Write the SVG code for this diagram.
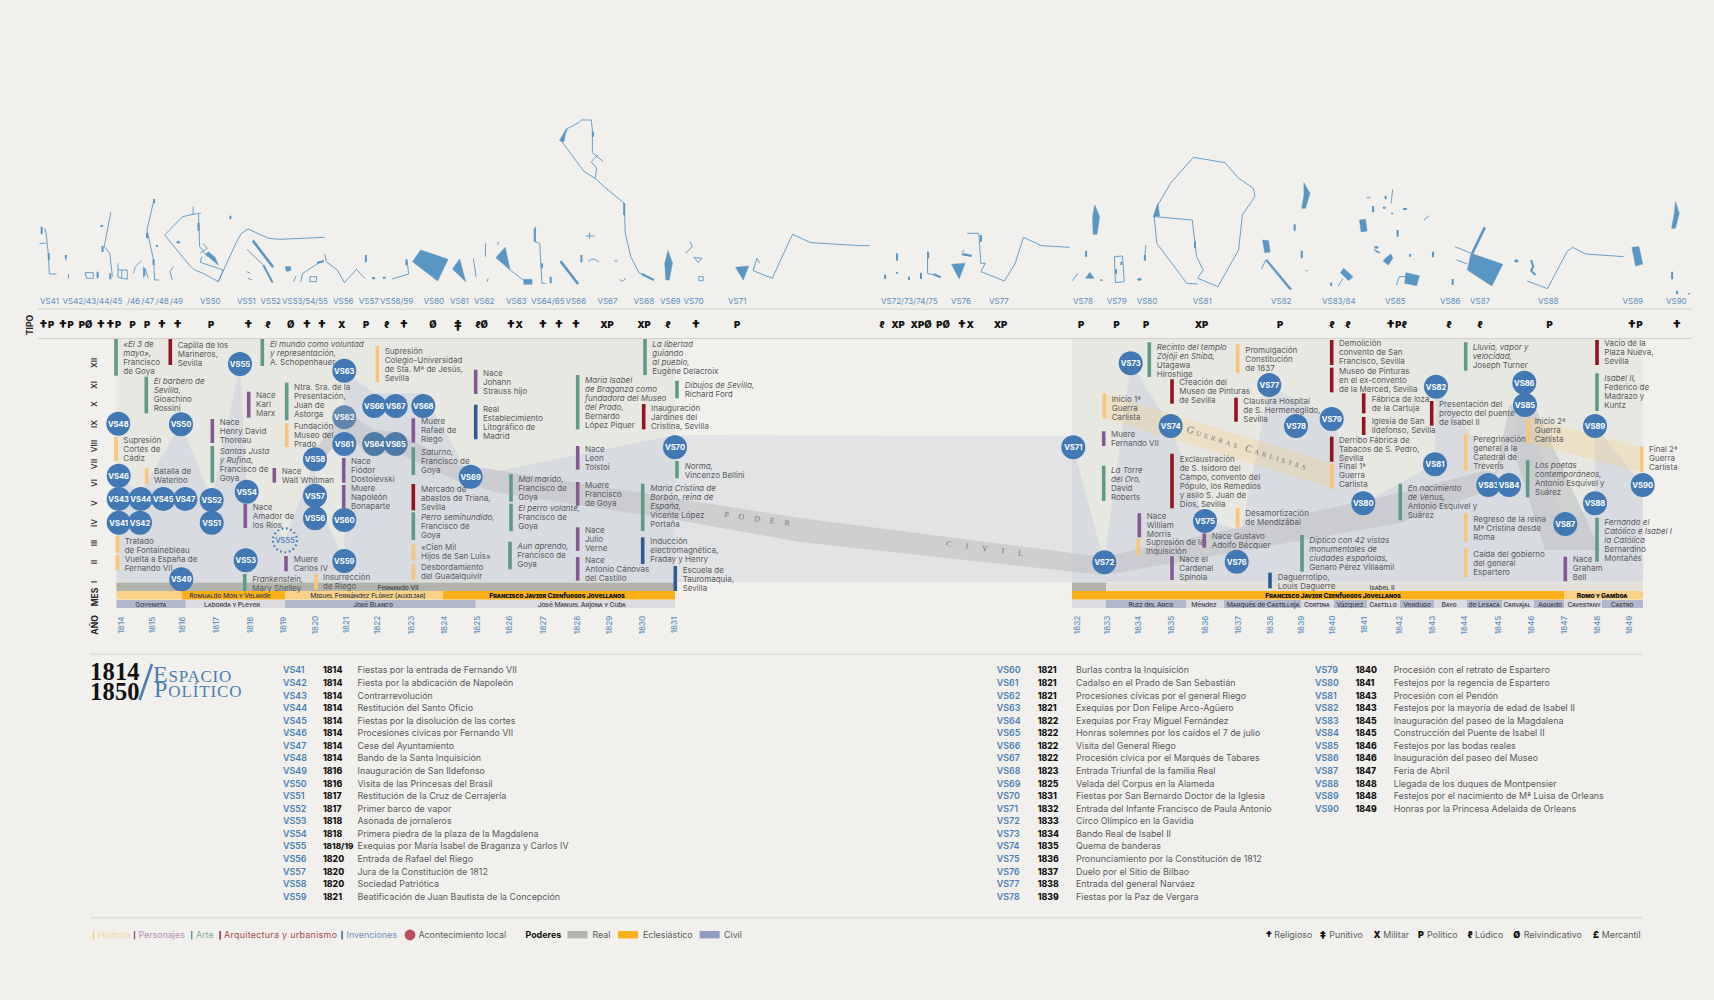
<svg xmlns="http://www.w3.org/2000/svg" width="1714" height="1000" viewBox="0 0 1714 1000">
<style>
text{font-family:"Inter","Liberation Sans",sans-serif}
.t{font-size:8px;fill:#5a5b5f}
.it{font-style:italic}
.h{fill:#f9c678}.p{fill:#855a93}.a{fill:#5e9a85}.u{fill:#93141e}.v{fill:#2f5a94}
.b rect{width:3.6px}
.n circle{fill:#4279b5}
.n text{font-size:7.6px;font-weight:700;fill:#fff;text-anchor:middle}
.yr{font-size:8px;fill:#5b8fc0;text-anchor:middle;font-weight:500}
.ax{font-size:8.5px;font-weight:700;fill:#222;text-anchor:middle}
.rm{font-size:8px;font-weight:600;fill:#333;text-anchor:middle}
.vl{font-size:8px;fill:#5b8fc0}
.ty{font-size:9.5px;font-weight:900;fill:#111;text-anchor:middle}
.ty tspan.d{font-size:14px;baseline-shift:-2.5px}
.sc{font-size:6.8px;letter-spacing:-.15px;font-variant:small-caps;fill:#44454a;text-anchor:middle;font-weight:500}
.sb{font-size:6.8px;letter-spacing:-.15px;font-variant:small-caps;fill:#111;text-anchor:middle;font-weight:800}
.l1{font-size:8.9px;font-weight:600;fill:#4a7fb5}
.l2{font-size:8.7px;font-weight:800;fill:#111}
.l3{font-size:8.9px;fill:#5a5b5f}
.lg{font-size:8.9px;fill:#5a5b5f}
.sym{font-size:9px;font-weight:900;fill:#111;text-anchor:middle}
.sv{font-family:"Liberation Serif",serif;fill:#77787c;font-size:8px}
.m path{fill:none;stroke:#5a96c4;stroke-width:.9;vector-effect:non-scaling-stroke}
.m polygon,.m circle,.m rect.f{fill:#5a96c4;stroke:#5a96c4;stroke-width:.5;vector-effect:non-scaling-stroke}
.m path.k{stroke-width:2.6}
.m path.s{stroke-width:2}
.rule{stroke:#d2d2cc;stroke-width:1}
</style>
<rect width="1714" height="1000" fill="#f1f0ec"/>

<g id="maps" class="m">
<g transform="translate(0,100) scale(.5485,.3333)">
<path d="M82,385 84,400 88,460 90,522 103,522M72,430H84M120,465V482M125,522V536"/><path class="s" d="M76,380V402M89,460V480M120,465V475"/>
<path d="M155,518H170V535H158ZM202,337 190,440 200,460 205,530"/><path class="s" d="M178,515V535M187,438V456M183,378H188M201,520V538"/>
<path d="M215,490V532L232,538V510H215M222,510V535M243,520 247,500 258,482M262,535V500M270,535 265,505"/><path class="s" d="M263,505V528"/>
<path d="M281,297 268,390 280,480 282,540H290M300,405 333,350 360,340H366M352,320V345M362,342 364,440 378,470M300,405 345,495 355,510 370,520 398,545 407,510 365,487 368,470M398,545 430,430 440,400 452,387 490,415 510,418 592,412M316,500 310,515 314,540"/>
<path class="s" d="M268,398V415M280,478V495M281,297V310M362,368V392M420,347V357M286,435V441"/>
<circle cx="325" cy="427" r="3"/><polygon points="380,455 392,472 398,495 385,478 375,462"/><path d="M370,430 378,445 365,460"/>
<path d="M450,515 456,520M452,535 460,540"/><path class="k" d="M461,422 498,502"/><path class="s" d="M480,495 497,548"/><path d="M450,448 480,495"/>
<polygon points="520,500 530,500 530,512 522,514"/><path d="M535,545 540,528M548,545 552,520 580,490 590,482M565,530H577V545H565ZM592,462 595,485 615,510 628,548 650,508 665,535"/><path class="s" d="M578,488 590,484"/>
<path class="s" d="M667,465V487M678,535H684M698,533H703"/><path d="M715,537 745,522 742,480"/><path class="s" d="M741,478V496"/>
<polygon points="767,450 817,478 798,543 752,485"/><polygon points="838,477 849,545 825,507"/>
<path d="M863,475 868,530M885,430V470M890,535 888,545M908,425V434"/>
<polygon points="921,442 930,510 904,473"/><path d="M930,510 958,545"/><rect class="f" x="955" y="538" width="15" height="15"/>
<path d="M976,380 975,425 984,430 988,550H995"/><path class="s" d="M975,385V425M988,490V505M1004,530V550"/><path class="k" d="M1022,484 1054,552"/>
<path class="s" d="M1060,465V487"/><path d="M1072,485C1078,475 1085,475 1092,487M1120,483H1126M1130,538C1132,545 1138,545 1140,534M1068,408H1084M1075,398V416"/>
<path d="M1023,122 1035,85 1055,68 1060,60 1078,60 1080,90 1080,158 1100,185M1023,122 1065,215 1085,235 1100,258 1138,310 1140,400 1150,470 1165,518 1192,540M1090,165 1078,185 1088,205 1085,235"/>
<polygon points="1033,85 1020,122 1028,125"/><path class="s" d="M1081,95V110M1138,310V345M1170,522 1192,540"/>
<polygon points="1218,452 1226,490 1220,540 1214,540 1212,490"/>
<path d="M1258,425 1262,440 1250,460M1265,472 1280,475 1273,488ZM1274,530H1282V542H1274Z"/>
<polygon points="1341,502 1365,498 1355,540"/><path d="M1373,512 1380,475 1385,490M1373,512 1408,535 1440,420 1445,403 1478,428 1568,437"/>
</g>
<g transform="translate(860,100) scale(.5447,.3333)">
<path d="M0,437H18M124,455V520L148,530"/><path class="s" d="M46,524V537M68,460V482M68,516V521M90,530V540M112,518V537M125,455V475M135,522 148,532"/>
<polygon points="168,493 193,490 182,537"/><path d="M190,450 187,465 205,468M197,400 218,400 222,490 230,490 222,515 265,543 285,490 300,412 333,437 385,442"/><path class="s" d="M222,405V425M190,462 205,468"/>
<polygon points="431,315 440,350 435,403 428,403 427,350"/><path class="s" d="M415,452V470M443,538V543"/><polygon points="422,517 430,535 414,535"/><path d="M400,520 390,542M467,470 482,468 485,545 469,548Z"/><path class="s" d="M470,508V522M480,485V495"/>
<path d="M525,435 522,482"/><path class="s" d="M523,465V482"/><circle cx="513" cy="538" r="3.5"/>
<path d="M612,172 670,188 695,235 722,265 725,290 702,345 695,450 657,560 620,535 630,510 618,470 610,360 540,350 545,430 600,550 620,552M612,172 570,250 545,320 540,350"/><polygon points="547,310 550,348 538,350"/><path class="s" d="M615,425V445"/>
<polygon points="739,420 750,422 753,456 743,458"/><polygon points="747,478 793,568 788,568 745,482"/><path d="M745,480 737,507"/><path class="s" d="M798,373V392M811,452V475M820,511V514"/><polygon points="815,248 826,280 818,325 811,325 815,285"/>
<path class="s" d="M865,548V558"/><path d="M878,558 887,535"/><polygon points="888,505 905,530 897,542 882,518"/>
<path d="M978,268 975,310M930,293H937M1035,360 1045,347"/><path class="s" d="M965,287V298M942,318V337M960,323H965M997,327H1004M977,338V343M987,390V410M1010,462V470"/>
<polygon points="917,360 928,358 931,393 920,396"/><circle cx="948" cy="442" r="3.5"/><polygon points="943,448 953,455 955,460 948,456"/><polygon points="975,462 978,475 970,495 960,482 968,470"/>
<polygon points="1002,518 1027,527 1022,557 1000,550"/><path d="M985,555 990,530H1002"/>
<path class="s" d="M1052,455V472M1088,537V555"/>
<polygon points="1122,460 1180,493 1160,558 1115,510"/><path class="k" d="M1147,382 1124,460"/><path d="M1092,440 1122,460M1095,480 1115,492"/>
<circle cx="1205" cy="483" r="3.5"/><path class="s" d="M1232,480 1236,500 1232,512 1240,525"/><path d="M1225,543 1262,566 1298,455 1308,442 1332,462 1402,470"/>
<polygon points="1417,442 1430,440 1437,492 1424,498"/><polygon points="1497,305 1504,340 1497,385 1490,385 1495,340"/><path class="s" d="M1491,515V538M1500,572V582M1522,579V583"/>
</g>
</g>

<g id="top-labels" class="vl">
<text class="vl" x="40" y="303.5">VS41</text><text class="vl" x="62.5" y="303.5">VS42/43/44/45</text><text class="vl" x="127" y="303.5">/46</text><text class="vl" x="141.5" y="303.5">/47</text><text class="vl" x="155.8" y="303.5">/48</text><text class="vl" x="170" y="303.5">/49</text><text class="vl" x="200" y="303.5">VS50</text><text class="vl" x="237" y="303.5">VS51</text><text class="vl" x="260.6" y="303.5">VS52</text><text class="vl" x="282" y="303.5">VS53/54/55</text><text class="vl" x="333" y="303.5">VS56</text><text class="vl" x="358.8" y="303.5">VS57</text><text class="vl" x="380" y="303.5">VS58/59</text><text class="vl" x="423.5" y="303.5">VS60</text><text class="vl" x="450" y="303.5">VS61</text><text class="vl" x="474" y="303.5">VS62</text><text class="vl" x="506" y="303.5">VS63</text><text class="vl" x="531" y="303.5">VS64/65</text><text class="vl" x="565.6" y="303.5">VS66</text><text class="vl" x="597.4" y="303.5">VS67</text><text class="vl" x="633.6" y="303.5">VS68</text><text class="vl" x="660" y="303.5">VS69</text><text class="vl" x="683.5" y="303.5">VS70</text><text class="vl" x="728" y="303.5">VS71</text><text class="vl" x="881" y="303.5">VS72/73/74/75</text><text class="vl" x="951" y="303.5">VS76</text><text class="vl" x="989" y="303.5">VS77</text><text class="vl" x="1073" y="303.5">VS78</text><text class="vl" x="1106.7" y="303.5">VS79</text><text class="vl" x="1136.7" y="303.5">VS80</text><text class="vl" x="1192.8" y="303.5">VS81</text><text class="vl" x="1271" y="303.5">VS82</text><text class="vl" x="1322" y="303.5">VS83/84</text><text class="vl" x="1385" y="303.5">VS85</text><text class="vl" x="1440" y="303.5">VS86</text><text class="vl" x="1470" y="303.5">VS87</text><text class="vl" x="1538" y="303.5">VS88</text><text class="vl" x="1622.5" y="303.5">VS89</text><text class="vl" x="1666" y="303.5">VS90</text>
</g>
<line class="rule" x1="38" y1="309" x2="1692" y2="309"/>
<line class="rule" x1="38" y1="338.5" x2="1692" y2="338.5"/>

<g id="tipo-row">
<text class="ax" transform="translate(33,325) rotate(-90)">TIPO</text>
<text class="ty" x="46.5" y="328"><tspan class="d">†</tspan>P</text><text class="ty" x="66" y="328"><tspan class="d">†</tspan>P</text><text class="ty" x="85.5" y="328">PØ</text><text class="ty" x="101" y="328"><tspan class="d">†</tspan></text><text class="ty" x="113.5" y="328"><tspan class="d">†</tspan>P</text><text class="ty" x="132.7" y="328">P</text><text class="ty" x="147" y="328">P</text><text class="ty" x="162" y="328"><tspan class="d">†</tspan></text><text class="ty" x="177.7" y="328"><tspan class="d">†</tspan></text><text class="ty" x="211" y="328">P</text><text class="ty" x="248.5" y="328"><tspan class="d">†</tspan></text><text class="ty" x="268" y="328">ℓ</text><text class="ty" x="290.7" y="328">Ø</text><text class="ty" x="307" y="328"><tspan class="d">†</tspan></text><text class="ty" x="322" y="328"><tspan class="d">†</tspan></text><text class="ty" x="341.7" y="328">X</text><text class="ty" x="366" y="328">P</text><text class="ty" x="386.7" y="328">ℓ</text><text class="ty" x="404" y="328"><tspan class="d">†</tspan></text><text class="ty" x="433" y="328">Ø</text><text class="ty" x="458" y="328"><tspan class="d">‡</tspan></text><text class="ty" x="481.6" y="328">ℓØ</text><text class="ty" x="514.5" y="328"><tspan class="d">†</tspan>X</text><text class="ty" x="543" y="328"><tspan class="d">†</tspan></text><text class="ty" x="559" y="328"><tspan class="d">†</tspan></text><text class="ty" x="576" y="328"><tspan class="d">†</tspan></text><text class="ty" x="607" y="328">XP</text><text class="ty" x="644" y="328">XP</text><text class="ty" x="668" y="328">ℓ</text><text class="ty" x="696" y="328"><tspan class="d">†</tspan></text><text class="ty" x="737" y="328">P</text>
<text class="ty" x="882" y="328">ℓ</text><text class="ty" x="898" y="328">XP</text><text class="ty" x="921" y="328">XPØ</text><text class="ty" x="943" y="328">PØ</text><text class="ty" x="965.7" y="328"><tspan class="d">†</tspan>X</text><text class="ty" x="1000.5" y="328">XP</text><text class="ty" x="1081" y="328">P</text><text class="ty" x="1116.5" y="328">P</text><text class="ty" x="1146" y="328">P</text><text class="ty" x="1201.5" y="328">XP</text><text class="ty" x="1280" y="328">P</text><text class="ty" x="1332" y="328">ℓ</text><text class="ty" x="1348" y="328">ℓ</text><text class="ty" x="1396.5" y="328"><tspan class="d">†</tspan>Pℓ</text><text class="ty" x="1449" y="328">ℓ</text><text class="ty" x="1480" y="328">ℓ</text><text class="ty" x="1549.5" y="328">P</text><text class="ty" x="1635" y="328"><tspan class="d">†</tspan>P</text><text class="ty" x="1677" y="328"><tspan class="d">†</tspan></text>
</g>

<g id="connectors">
<rect x="116.5" y="339" width="558.5" height="243" fill="#e8e8e2"/>
<rect x="1072" y="339" width="571" height="243" fill="#e8e8e2"/>
<polygon fill="#d8dbdf" points="116.5,582 116.5,476 118.7,475.7 140,493 181,424 211.7,500 240,364 246.7,491.7 285,540 315,459 315,495.7 344.3,561 344.3,520 344.3,371 374,393 423,393 470.7,476.7 675,435 1072,436 1073.3,447.3 1104.3,562.3 1130.7,363.3 1170.7,426 1205,521 1241.7,530 1269.3,385 1331.7,419 1363.3,503.3 1435,464 1436,386.7 1475,440 1488.3,485 1525,405 1565.3,524 1595,503.3 1595,426 1642.7,485 1643,582"/>
<rect x="675" y="430" width="397" height="152" fill="#f1f0ec" opacity=".4"/>
<polygon fill="#c4c6c9" points="315,450 344,410 374,430 396,432 458,465 483,468 800,518 1103,557 1400,493 1488,470 1495,473 1510,405 1534,405 1600,550 1545,550 1510,440 1490,490 1400,523 1117,573 1103,575 800,542 677,520 500,493 460,482 396,452 374,455 344,435 315,468" opacity=".7"/>
<polygon fill="#f6cf8e" opacity=".32" points="1103,393 1332,463 1332,488 1103,418"/>
<polygon fill="#f6cf8e" opacity=".32" points="1528,418 1642,447 1642,472 1528,443"/>
<text class="sv" letter-spacing="10" transform="translate(724,517) rotate(7.5)">PODER</text>
<text class="sv" letter-spacing="14" transform="translate(946,546) rotate(7.5)">CIVIL</text>
<text class="sv" letter-spacing="3" transform="translate(1186,432) rotate(17.7)" style="font-variant:small-caps;font-size:10px">Guerras Carlistas</text>
</g>

<g id="bars">
<rect x="116.5" y="582.5" width="558.5" height="8.5" fill="#b2b2ac"/>
<rect x="1072" y="582.5" width="34" height="8.5" fill="#b2b2ac"/><rect x="1106" y="582.5" width="537" height="8.5" fill="#e2e0d8"/>
<rect x="116.5" y="591" width="65.2" height="8.5" fill="#f9d288"/><rect x="181.7" y="591" width="103.3" height="8.5" fill="#fbb017"/><rect x="285" y="591" width="158" height="8.5" fill="#f9d288"/><rect x="443" y="591" width="232" height="8.5" fill="#fbb017"/>
<rect x="1072" y="591" width="492" height="8.5" fill="#fbb017"/><rect x="1564" y="591" width="79" height="8.5" fill="#f9d288"/>
<g fill="#dcdce0"><rect x="185.7" y="600" width="99.3" height="8"/><rect x="475.7" y="600" width="199.3" height="8"/><rect x="1072" y="600" width="34" height="8"/><rect x="1186" y="600" width="38" height="8"/><rect x="1301" y="600" width="33" height="8"/><rect x="1367" y="600" width="33" height="8"/><rect x="1434" y="600" width="33" height="8"/><rect x="1502" y="600" width="32" height="8"/><rect x="1564" y="600" width="38" height="8"/></g>
<g fill="#b2b8cc"><rect x="116.5" y="600" width="69.2" height="8"/><rect x="285" y="600" width="190.7" height="8"/><rect x="1106" y="600" width="80" height="8"/><rect x="1224" y="600" width="77" height="8"/><rect x="1334" y="600" width="33" height="8"/><rect x="1400" y="600" width="34" height="8"/><rect x="1467" y="600" width="35" height="8"/><rect x="1534" y="600" width="30" height="8"/><rect x="1602" y="600" width="41" height="8"/></g>
<text class="sc" x="398" y="589.5">Fernando VII</text><text class="sc" x="1382" y="589.5">Isabel II</text>
<text class="sc" x="230" y="598">Romualdo Mon y Velarde</text><text class="sc" x="368" y="598">Miguel Fernández Flórez (auxiliar)</text><text class="sb" x="557" y="598">Francisco Javier Cienfuegos Jovellanos</text><text class="sb" x="1333" y="598">Francisco Javier Cienfuegos Jovellanos</text><text class="sb" x="1602" y="598">Romo y Gamboa</text>
<text class="sc" x="150.7" y="606.5">Goyeneta</text><text class="sc" x="232" y="606.5">Laborda y Pleyer</text><text class="sc" x="373" y="606.5">José Blanco</text><text class="sc" x="581.7" y="606.5">José Manuel Arjona y Cuba</text><text class="sc" x="1150.7" y="606.5">Ruiz del Arco</text><text class="sc" x="1204" y="606.5">Méndez</text><text class="sc" x="1263" y="606.5">Marqués de Castilleja</text><text class="sc" x="1316.7" y="606.5">Cortina</text><text class="sc" x="1350" y="606.5">Vázquez</text><text class="sc" x="1383" y="606.5">Castillo</text><text class="sc" x="1417" y="606.5">Verdugo</text><text class="sc" x="1449" y="606.5">Bayo</text><text class="sc" x="1484" y="606.5">de Lesaca</text><text class="sc" x="1517" y="606.5">Carvajal</text><text class="sc" x="1550" y="606.5">Aguado</text><text class="sc" x="1584" y="606.5">Cavestany</text><text class="sc" x="1622" y="606.5">Castro</text>
</g>

<g id="axes">
<text class="ax" transform="translate(98,625) rotate(-90)">AÑO</text><text class="ax" transform="translate(98,597) rotate(-90)">MES</text>
<text class="rm" transform="translate(97,363) rotate(-90)">XII</text><text class="rm" transform="translate(97,385) rotate(-90)">XI</text><text class="rm" transform="translate(97,404) rotate(-90)">X</text><text class="rm" transform="translate(97,424) rotate(-90)">IX</text><text class="rm" transform="translate(97,446) rotate(-90)">VIII</text><text class="rm" transform="translate(97,464) rotate(-90)">VII</text><text class="rm" transform="translate(97,483) rotate(-90)">VI</text><text class="rm" transform="translate(97,503) rotate(-90)">V</text><text class="rm" transform="translate(97,523) rotate(-90)">IV</text><text class="rm" transform="translate(97,543) rotate(-90)">III</text><text class="rm" transform="translate(97,562) rotate(-90)">II</text><text class="rm" transform="translate(97,582) rotate(-90)">I</text>
<text class="yr" transform="translate(124,625) rotate(-90)">1814</text><text class="yr" transform="translate(154.7,625) rotate(-90)">1815</text><text class="yr" transform="translate(185,625) rotate(-90)">1816</text><text class="yr" transform="translate(218.7,625) rotate(-90)">1817</text><text class="yr" transform="translate(253,625) rotate(-90)">1818</text><text class="yr" transform="translate(285.7,625) rotate(-90)">1819</text><text class="yr" transform="translate(318,625) rotate(-90)">1820</text><text class="yr" transform="translate(348.7,625) rotate(-90)">1821</text><text class="yr" transform="translate(379.7,625) rotate(-90)">1822</text><text class="yr" transform="translate(413.7,625) rotate(-90)">1823</text><text class="yr" transform="translate(447,625) rotate(-90)">1824</text><text class="yr" transform="translate(479.7,625) rotate(-90)">1825</text><text class="yr" transform="translate(512,625) rotate(-90)">1826</text><text class="yr" transform="translate(545.7,625) rotate(-90)">1827</text><text class="yr" transform="translate(579.7,625) rotate(-90)">1828</text><text class="yr" transform="translate(612.3,625) rotate(-90)">1829</text><text class="yr" transform="translate(644.7,625) rotate(-90)">1830</text><text class="yr" transform="translate(677.3,625) rotate(-90)">1831</text>
<text class="yr" transform="translate(1079.7,625) rotate(-90)">1832</text><text class="yr" transform="translate(1110,625) rotate(-90)">1833</text><text class="yr" transform="translate(1140.7,625) rotate(-90)">1834</text><text class="yr" transform="translate(1174,625) rotate(-90)">1835</text><text class="yr" transform="translate(1208,625) rotate(-90)">1836</text><text class="yr" transform="translate(1240.7,625) rotate(-90)">1837</text><text class="yr" transform="translate(1273,625) rotate(-90)">1838</text><text class="yr" transform="translate(1303.7,625) rotate(-90)">1839</text><text class="yr" transform="translate(1334.7,625) rotate(-90)">1840</text><text class="yr" transform="translate(1367,625) rotate(-90)">1841</text><text class="yr" transform="translate(1402.3,625) rotate(-90)">1842</text><text class="yr" transform="translate(1434.7,625) rotate(-90)">1843</text><text class="yr" transform="translate(1467.3,625) rotate(-90)">1844</text><text class="yr" transform="translate(1500.7,625) rotate(-90)">1845</text><text class="yr" transform="translate(1533.7,625) rotate(-90)">1846</text><text class="yr" transform="translate(1567.3,625) rotate(-90)">1847</text><text class="yr" transform="translate(1599.7,625) rotate(-90)">1848</text><text class="yr" transform="translate(1632.3,625) rotate(-90)">1849</text>
</g>

<g id="events" class="b">
<rect class="a" x="114.2" y="339" height="36.7"/><text class="t" x="123.3" y="346.8"><tspan class="it">«El 3 de</tspan><tspan class="it" x="123.3" dy="9.05">mayo»,</tspan><tspan x="123.3" dy="9.05">Francisco</tspan><tspan x="123.3" dy="9.05">de Goya</tspan></text>
<rect class="u" x="168.5" y="339" height="26"/><text class="t" x="177.7" y="347.8"><tspan>Capilla de los</tspan><tspan x="177.7" dy="9.05">Marineros,</tspan><tspan x="177.7" dy="9.05">Sevilla</tspan></text>
<rect class="a" x="144.5" y="376.7" height="36.6"/><text class="t" x="153.7" y="384.1"><tspan class="it">El barbero de</tspan><tspan class="it" x="153.7" dy="9.05">Sevilla,</tspan><tspan x="153.7" dy="9.05">Gioachino</tspan><tspan x="153.7" dy="9.05">Rossini</tspan></text>
<rect class="a" x="260.5" y="339" height="27"/><text class="t" x="270" y="346.5"><tspan class="it">El mundo como voluntad</tspan><tspan class="it" x="270" dy="9.05">y representación,</tspan><tspan x="270" dy="9.05">A. Schopenhauer</tspan></text>
<rect class="h" x="375.5" y="346" height="36.3"/><text class="t" x="384.7" y="353.5"><tspan>Supresión</tspan><tspan x="384.7" dy="9.05">Colegio-Universidad</tspan><tspan x="384.7" dy="9.05">de Sta. Mª de Jesús,</tspan><tspan x="384.7" dy="9.05">Sevilla</tspan></text>
<rect class="p" x="246.9" y="391.7" height="26"/><text class="t" x="256" y="397.8"><tspan>Nace</tspan><tspan x="256" dy="9.05">Karl</tspan><tspan x="256" dy="9.05">Marx</tspan></text>
<rect class="a" x="284.9" y="382.7" height="37.6"/><text class="t" x="294" y="390.1"><tspan>Ntra. Sra. de la</tspan><tspan x="294" dy="9.05">Presentación,</tspan><tspan x="294" dy="9.05">Juan de</tspan><tspan x="294" dy="9.05">Astorga</tspan></text>
<rect class="h" x="284.9" y="423.3" height="24"/><text class="t" x="294" y="428.8"><tspan>Fundación</tspan><tspan x="294" dy="9.05">Museo del</tspan><tspan x="294" dy="9.05">Prado</tspan></text>
<rect class="p" x="210.5" y="419" height="24"/><text class="t" x="219.7" y="425.1"><tspan>Nace</tspan><tspan x="219.7" dy="9.05">Henry David</tspan><tspan x="219.7" dy="9.05">Thoreau</tspan></text>
<rect class="a" x="210.5" y="446" height="36.7"/><text class="t" x="219.7" y="453.5"><tspan class="it">Santas Justa</tspan><tspan class="it" x="219.7" dy="9.05">y Rufina,</tspan><tspan x="219.7" dy="9.05">Francisco de</tspan><tspan x="219.7" dy="9.05">Goya</tspan></text>
<rect class="h" x="114.2" y="437" height="24"/><text class="t" x="123.3" y="442.8"><tspan>Supresión</tspan><tspan x="123.3" dy="9.05">Cortes de</tspan><tspan x="123.3" dy="9.05">Cádiz</tspan></text>
<rect class="h" x="144.9" y="468" height="16"/><text class="t" x="154" y="473.5"><tspan>Batalla de</tspan><tspan x="154" dy="9.05">Waterloo</tspan></text>
<rect class="p" x="272.5" y="468" height="14.7"/><text class="t" x="281.7" y="474.1"><tspan>Nace</tspan><tspan x="281.7" dy="9.05">Walt Whitman</tspan></text>
<rect class="p" x="243.5" y="504" height="24"/><text class="t" x="252.7" y="509.8"><tspan>Nace</tspan><tspan x="252.7" dy="9.05">Amador de</tspan><tspan x="252.7" dy="9.05">los Ríos</tspan></text>
<rect class="p" x="341.9" y="458" height="24.7"/><text class="t" x="351" y="463.5"><tspan>Nace</tspan><tspan x="351" dy="9.05">Fiódor</tspan><tspan x="351" dy="9.05">Dostoievski</tspan></text>
<rect class="p" x="341.9" y="485" height="23.3"/><text class="t" x="351" y="490.5"><tspan>Muere</tspan><tspan x="351" dy="9.05">Napoleón</tspan><tspan x="351" dy="9.05">Bonaparte</tspan></text>
<rect class="h" x="115.5" y="536" height="16.7"/><text class="t" x="124.7" y="543.8"><tspan>Tratado</tspan><tspan x="124.7" dy="9.05">de Fontainebleau</tspan></text>
<rect class="h" x="115.5" y="555.3" height="15"/><text class="t" x="124.7" y="561.5"><tspan>Vuelta a España de</tspan><tspan x="124.7" dy="9.05">Fernando VII</tspan></text>
<rect class="p" x="284.2" y="556" height="15.3"/><text class="t" x="293.7" y="561.8"><tspan>Muere</tspan><tspan x="293.7" dy="9.05">Carlos IV</tspan></text>
<rect class="a" x="242.9" y="574" height="17"/><text class="t" x="252.3" y="581.5"><tspan class="it">Frankenstein,</tspan><tspan x="252.3" dy="9.05">Mary Shelley</tspan></text>
<rect class="h" x="314.2" y="573.7" height="16.3"/><text class="t" x="323" y="579.5"><tspan>Insurrección</tspan><tspan x="323" dy="9.05">de Riego</tspan></text>
<rect class="p" x="411.5" y="418.3" height="24.4"/><text class="t" x="421" y="423.8"><tspan>Muere</tspan><tspan x="421" dy="9.05">Rafael de</tspan><tspan x="421" dy="9.05">Riego</tspan></text>
<rect class="a" x="411.5" y="447.3" height="27.7"/><text class="t" x="421" y="454.8"><tspan class="it">Saturno,</tspan><tspan x="421" dy="9.05">Francisco de</tspan><tspan x="421" dy="9.05">Goya</tspan></text>
<rect class="u" x="411.5" y="484" height="26.3"/><text class="t" x="421" y="491.5"><tspan>Mercado de</tspan><tspan x="421" dy="9.05">abastos de Triana,</tspan><tspan x="421" dy="9.05">Sevilla</tspan></text>
<rect class="a" x="411.5" y="512.3" height="27.7"/><text class="t" x="421" y="520.1"><tspan class="it">Perro semihundido,</tspan><tspan x="421" dy="9.05">Francisco de</tspan><tspan x="421" dy="9.05">Goya</tspan></text>
<rect class="h" x="411.5" y="544.3" height="16.4"/><text class="t" x="421" y="550.1"><tspan>«Cien Mil</tspan><tspan x="421" dy="9.05">Hijos de San Luis»</tspan></text>
<rect class="h" x="411.5" y="564" height="16"/><text class="t" x="421" y="570.1"><tspan>Desbordamiento</tspan><tspan x="421" dy="9.05">del Guadalquivir</tspan></text>
<rect class="p" x="473.9" y="369.7" height="24.3"/><text class="t" x="483" y="375.5"><tspan>Nace</tspan><tspan x="483" dy="9.05">Johann</tspan><tspan x="483" dy="9.05">Strauss hijo</tspan></text>
<rect class="v" x="473.9" y="404.7" height="34.6"/><text class="t" x="483" y="411.5"><tspan>Real</tspan><tspan x="483" dy="9.05">Establecimiento</tspan><tspan x="483" dy="9.05">Litográfico de</tspan><tspan x="483" dy="9.05">Madrid</tspan></text>
<rect class="a" x="509.2" y="474" height="27.7"/><text class="t" x="518.3" y="481.5"><tspan class="it">Mal marido,</tspan><tspan x="518.3" dy="9.05">Francisco de</tspan><tspan x="518.3" dy="9.05">Goya</tspan></text>
<rect class="a" x="509.2" y="503.7" height="27.6"/><text class="t" x="518.3" y="511.1"><tspan class="it">El perro volante,</tspan><tspan x="518.3" dy="9.05">Francisco de</tspan><tspan x="518.3" dy="9.05">Goya</tspan></text>
<rect class="a" x="508.2" y="541.7" height="27.6"/><text class="t" x="517.3" y="549.1"><tspan class="it">Aun aprendo,</tspan><tspan x="517.3" dy="9.05">Francisco de</tspan><tspan x="517.3" dy="9.05">Goya</tspan></text>
<rect class="a" x="575.9" y="375" height="54.3"/><text class="t" x="585" y="382.5"><tspan class="it">María Isabel</tspan><tspan class="it" x="585" dy="9.05">de Braganza como</tspan><tspan class="it" x="585" dy="9.05">fundadora del Museo</tspan><tspan class="it" x="585" dy="9.05">del Prado,</tspan><tspan x="585" dy="9.05">Bernardo</tspan><tspan x="585" dy="9.05">López Piquer</tspan></text>
<rect class="p" x="575.9" y="446" height="23.7"/><text class="t" x="585" y="451.8"><tspan>Nace</tspan><tspan x="585" dy="9.05">Leon</tspan><tspan x="585" dy="9.05">Tolstoi</tspan></text>
<rect class="p" x="575.9" y="482" height="23.7"/><text class="t" x="585" y="487.8"><tspan>Muere</tspan><tspan x="585" dy="9.05">Francisco</tspan><tspan x="585" dy="9.05">de Goya</tspan></text>
<rect class="p" x="575.9" y="527.3" height="23.7"/><text class="t" x="585" y="533.1"><tspan>Nace</tspan><tspan x="585" dy="9.05">Julio</tspan><tspan x="585" dy="9.05">Verne</tspan></text>
<rect class="p" x="575.9" y="557" height="23.7"/><text class="t" x="585" y="562.8"><tspan>Nace</tspan><tspan x="585" dy="9.05">Antonio Cánovas</tspan><tspan x="585" dy="9.05">del Castillo</tspan></text>
<rect class="a" x="643.2" y="339" height="36"/><text class="t" x="652.3" y="347.1"><tspan class="it">La libertad</tspan><tspan class="it" x="652.3" dy="9.05">guiando</tspan><tspan class="it" x="652.3" dy="9.05">al pueblo,</tspan><tspan x="652.3" dy="9.05">Eugène Delacroix</tspan></text>
<rect class="a" x="675.2" y="380.7" height="17.6"/><text class="t" x="684.7" y="388.1"><tspan class="it">Dibujos de Sevilla,</tspan><tspan x="684.7" dy="9.05">Richard Ford</tspan></text>
<rect class="u" x="641.9" y="404" height="25.3"/><text class="t" x="651" y="410.8"><tspan>Inauguración</tspan><tspan x="651" dy="9.05">Jardines del</tspan><tspan x="651" dy="9.05">Cristina, Sevilla</tspan></text>
<rect class="a" x="675.2" y="461" height="17.3"/><text class="t" x="684.7" y="468.8"><tspan class="it">Norma,</tspan><tspan x="684.7" dy="9.05">Vincenzo Bellini</tspan></text>
<rect class="a" x="640.9" y="483.7" height="47.3"/><text class="t" x="650.3" y="491.1"><tspan class="it">María Cristina de</tspan><tspan class="it" x="650.3" dy="9.05">Borbón, reina de</tspan><tspan class="it" x="650.3" dy="9.05">España,</tspan><tspan x="650.3" dy="9.05">Vicente López</tspan><tspan x="650.3" dy="9.05">Portaña</tspan></text>
<rect class="v" x="640.9" y="537.3" height="26.7"/><text class="t" x="650.3" y="543.5"><tspan>Inducción</tspan><tspan x="650.3" dy="9.05">electromagnética,</tspan><tspan x="650.3" dy="9.05">Fraday y Henry</tspan></text>
<rect class="v" x="673.5" y="566" height="25"/><text class="t" x="682.7" y="572.5"><tspan>Escuela de</tspan><tspan x="682.7" dy="9.05">Tauromaquia,</tspan><tspan x="682.7" dy="9.05">Sevilla</tspan></text>
<rect class="a" x="1147.5" y="342.3" height="34.7"/><text class="t" x="1156.7" y="349.8"><tspan class="it">Recinto del templo</tspan><tspan class="it" x="1156.7" dy="9.05">Zōjōji en Shiba,</tspan><tspan x="1156.7" dy="9.05">Utagawa</tspan><tspan x="1156.7" dy="9.05">Hiroshige</tspan></text>
<rect class="h" x="1235.9" y="344.3" height="28.4"/><text class="t" x="1245.3" y="353.1"><tspan>Promulgación</tspan><tspan x="1245.3" dy="9.05">Constitución</tspan><tspan x="1245.3" dy="9.05">de 1837</tspan></text>
<rect class="u" x="1170.2" y="379.3" height="24.4"/><text class="t" x="1179.3" y="385.1"><tspan>Creación del</tspan><tspan x="1179.3" dy="9.05">Museo de Pinturas</tspan><tspan x="1179.3" dy="9.05">de Sevilla</tspan></text>
<rect class="u" x="1234.2" y="397.7" height="24"/><text class="t" x="1243.3" y="403.5"><tspan>Clausura Hospital</tspan><tspan x="1243.3" dy="9.05">de S. Hermenegildo,</tspan><tspan x="1243.3" dy="9.05">Sevilla</tspan></text>
<rect class="h" x="1102.5" y="393.3" height="25.4"/><text class="t" x="1111.7" y="401.8"><tspan>Inicio 1ª</tspan><tspan x="1111.7" dy="9.05">Guerra</tspan><tspan x="1111.7" dy="9.05">Carlista</tspan></text>
<rect class="p" x="1101.9" y="431.3" height="14.7"/><text class="t" x="1111" y="436.8"><tspan>Muere</tspan><tspan x="1111" dy="9.05">Fernando VII</tspan></text>
<rect class="a" x="1101.9" y="465.7" height="35.3"/><text class="t" x="1111" y="473.1"><tspan class="it">La Torre</tspan><tspan class="it" x="1111" dy="9.05">del Oro,</tspan><tspan x="1111" dy="9.05">David</tspan><tspan x="1111" dy="9.05">Roberts</tspan></text>
<rect class="u" x="1170.2" y="453.7" height="54.6"/><text class="t" x="1179.7" y="462.1"><tspan>Exclaustración</tspan><tspan x="1179.7" dy="9.05">de S. Isidoro del</tspan><tspan x="1179.7" dy="9.05">Campo, convento del</tspan><tspan x="1179.7" dy="9.05">Pópulo, los Remedios</tspan><tspan x="1179.7" dy="9.05">y asilo S. Juan de</tspan><tspan x="1179.7" dy="9.05">Dios, Sevilla</tspan></text>
<rect class="p" x="1137.5" y="513.3" height="24"/><text class="t" x="1146.7" y="519.1"><tspan>Nace</tspan><tspan x="1146.7" dy="9.05">William</tspan><tspan x="1146.7" dy="9.05">Morris</tspan></text>
<rect class="h" x="1136.5" y="539.3" height="16"/><text class="t" x="1146" y="545.1"><tspan>Supresión de la</tspan><tspan x="1146" dy="9.05">Inquisición</tspan></text>
<rect class="p" x="1170.2" y="556.3" height="23.7"/><text class="t" x="1179.3" y="562.1"><tspan>Nace el</tspan><tspan x="1179.3" dy="9.05">Cardenal</tspan><tspan x="1179.3" dy="9.05">Spínola</tspan></text>
<rect class="p" x="1202.5" y="533.3" height="14.4"/><text class="t" x="1211.7" y="539.1"><tspan>Nace Gustavo</tspan><tspan x="1211.7" dy="9.05">Adolfo Bécquer</tspan></text>
<rect class="h" x="1235.9" y="507.7" height="19.6"/><text class="t" x="1245.3" y="516.1"><tspan>Desamortización</tspan><tspan x="1245.3" dy="9.05">de Mendizábal</tspan></text>
<rect class="a" x="1300.2" y="535" height="36.7"/><text class="t" x="1309.3" y="542.8"><tspan class="it">Díptico con 42 vistas</tspan><tspan class="it" x="1309.3" dy="9.05">monumentales de</tspan><tspan class="it" x="1309.3" dy="9.05">ciudades españolas,</tspan><tspan x="1309.3" dy="9.05">Genaro Pérez Villaamil</tspan></text>
<rect class="v" x="1268.2" y="572.7" height="15.6"/><text class="t" x="1277.7" y="579.8"><tspan>Daguerrotipo,</tspan><tspan x="1277.7" dy="9.05">Louis Daguerre</tspan></text>
<rect class="u" x="1329.9" y="340" height="25"/><text class="t" x="1339" y="346.1"><tspan>Demolición</tspan><tspan x="1339" dy="9.05">convento de San</tspan><tspan x="1339" dy="9.05">Francisco, Sevilla</tspan></text>
<rect class="u" x="1329.9" y="367.7" height="24.6"/><text class="t" x="1339" y="373.5"><tspan>Museo de Pinturas</tspan><tspan x="1339" dy="9.05">en el ex-convento</tspan><tspan x="1339" dy="9.05">de la Merced, Sevilla</tspan></text>
<rect class="u" x="1361.9" y="393.3" height="20"/><text class="t" x="1371.7" y="401.5"><tspan>Fábrica de loza</tspan><tspan x="1371.7" dy="9.05">de la Cartuja</tspan></text>
<rect class="u" x="1361.9" y="417" height="18"/><text class="t" x="1371.7" y="423.5"><tspan>Iglesia de San</tspan><tspan x="1371.7" dy="9.05">Ildefonso, Sevilla</tspan></text>
<rect class="u" x="1329.9" y="436.7" height="25"/><text class="t" x="1339" y="442.5"><tspan>Derribo Fábrica de</tspan><tspan x="1339" dy="9.05">Tabacos de S. Pedro,</tspan><tspan x="1339" dy="9.05">Sevilla</tspan></text>
<rect class="h" x="1329.9" y="463.3" height="25.4"/><text class="t" x="1339" y="468.8"><tspan>Final 1ª</tspan><tspan x="1339" dy="9.05">Guerra</tspan><tspan x="1339" dy="9.05">Carlista</tspan></text>
<rect class="u" x="1429.9" y="401" height="24.7"/><text class="t" x="1439" y="406.5"><tspan>Presentación del</tspan><tspan x="1439" dy="9.05">proyecto del puente</tspan><tspan x="1439" dy="9.05">de Isabel II</tspan></text>
<rect class="a" x="1463.9" y="342.3" height="28.4"/><text class="t" x="1472.7" y="350.1"><tspan class="it">Lluvia, vapor y</tspan><tspan class="it" x="1472.7" dy="9.05">velocidad,</tspan><tspan x="1472.7" dy="9.05">Joseph Turner</tspan></text>
<rect class="h" x="1463.9" y="433.7" height="37"/><text class="t" x="1473.3" y="442.1"><tspan>Peregrinación</tspan><tspan x="1473.3" dy="9.05">general a la</tspan><tspan x="1473.3" dy="9.05">Catedral de</tspan><tspan x="1473.3" dy="9.05">Tréveris</tspan></text>
<rect class="a" x="1398.5" y="483.7" height="36.6"/><text class="t" x="1407.7" y="491.1"><tspan class="it">En nacimiento</tspan><tspan class="it" x="1407.7" dy="9.05">de Venus,</tspan><tspan x="1407.7" dy="9.05">Antonio Esquivel y</tspan><tspan x="1407.7" dy="9.05">Suárez</tspan></text>
<rect class="h" x="1463.9" y="513" height="28.7"/><text class="t" x="1473.3" y="521.8"><tspan>Regreso de la reina</tspan><tspan x="1473.3" dy="9.05">Mª Cristina desde</tspan><tspan x="1473.3" dy="9.05">Roma</tspan></text>
<rect class="h" x="1463.9" y="548.3" height="28.7"/><text class="t" x="1473.3" y="557.1"><tspan>Caída del gobierno</tspan><tspan x="1473.3" dy="9.05">del general</tspan><tspan x="1473.3" dy="9.05">Espartero</tspan></text>
<rect class="h" x="1526.5" y="418.3" height="25"/><text class="t" x="1534.7" y="423.5"><tspan>Inicio 2ª</tspan><tspan x="1534.7" dy="9.05">Guerra</tspan><tspan x="1534.7" dy="9.05">Carlista</tspan></text>
<rect class="a" x="1525.9" y="460.3" height="37"/><text class="t" x="1535" y="468.1"><tspan class="it">Los poetas</tspan><tspan class="it" x="1535" dy="9.05">contemporáneos,</tspan><tspan x="1535" dy="9.05">Antonio Esquivel y</tspan><tspan x="1535" dy="9.05">Suárez</tspan></text>
<rect class="u" x="1595.2" y="340" height="25"/><text class="t" x="1604.3" y="346.1"><tspan>Vacío de la</tspan><tspan x="1604.3" dy="9.05">Plaza Nueva,</tspan><tspan x="1604.3" dy="9.05">Sevilla</tspan></text>
<rect class="a" x="1595.2" y="373.3" height="37.7"/><text class="t" x="1604.3" y="380.8"><tspan class="it">Isabel II,</tspan><tspan x="1604.3" dy="9.05">Federico de</tspan><tspan x="1604.3" dy="9.05">Madrazo y</tspan><tspan x="1604.3" dy="9.05">Kuntz</tspan></text>
<rect class="h" x="1639.9" y="446.7" height="25"/><text class="t" x="1649" y="452.1"><tspan>Final 2ª</tspan><tspan x="1649" dy="9.05">Guerra</tspan><tspan x="1649" dy="9.05">Carlista</tspan></text>
<rect class="a" x="1595.2" y="517.7" height="44"/><text class="t" x="1604.3" y="525.1"><tspan class="it">Fernando el</tspan><tspan class="it" x="1604.3" dy="9.05">Católico e Isabel I</tspan><tspan class="it" x="1604.3" dy="9.05">la Católica</tspan><tspan x="1604.3" dy="9.05">Bernardino</tspan><tspan x="1604.3" dy="9.05">Montañés</tspan></text>
<rect class="p" x="1563.5" y="556.7" height="24.6"/><text class="t" x="1572.7" y="562.1"><tspan>Nace</tspan><tspan x="1572.7" dy="9.05">Graham</tspan><tspan x="1572.7" dy="9.05">Bell</tspan></text>
</g>

<g id="nodes" class="n">
<g id="VS41"><circle cx="118.7" cy="522.7" r="12"/><text x="118.7" y="525.5">VS41</text></g>
<g id="VS42"><circle cx="140" cy="522.7" r="12"/><text x="140" y="525.5">VS42</text></g>
<g id="VS43"><circle cx="118.7" cy="499" r="12"/><text x="118.7" y="501.8">VS43</text></g>
<g id="VS44"><circle cx="140.7" cy="499" r="12"/><text x="140.7" y="501.8">VS44</text></g>
<g id="VS45"><circle cx="163.3" cy="499" r="12"/><text x="163.3" y="501.8">VS45</text></g>
<g id="VS46"><circle cx="118.7" cy="475.7" r="12"/><text x="118.7" y="478.5">VS46</text></g>
<g id="VS47"><circle cx="185.3" cy="499" r="12"/><text x="185.3" y="501.8">VS47</text></g>
<g id="VS48"><circle cx="118.3" cy="423.7" r="12"/><text x="118.3" y="426.5">VS48</text></g>
<g id="VS49"><circle cx="181.3" cy="579.3" r="12"/><text x="181.3" y="582.1">VS49</text></g>
<g id="VS50"><circle cx="181" cy="424.3" r="12"/><text x="181" y="427.1">VS50</text></g>
<g id="VS51"><circle cx="211.7" cy="522.7" r="12"/><text x="211.7" y="525.5">VS51</text></g>
<g id="VS52"><circle cx="211.7" cy="500" r="12"/><text x="211.7" y="502.8">VS52</text></g>
<g id="VS53"><circle cx="245.7" cy="560.3" r="12"/><text x="245.7" y="563.1">VS53</text></g>
<g id="VS54"><circle cx="246.7" cy="491.7" r="12"/><text x="246.7" y="494.5">VS54</text></g>
<g id="VS55"><circle cx="240" cy="364" r="12"/><text x="240" y="366.8">VS55</text></g>
<g id="VS55-dotted"><circle cx="285" cy="540.3" r="12" style="fill:none;stroke:#4279b5;stroke-width:2.2;stroke-dasharray:1.6 2.8"/><text x="285" y="543.1" style="fill:#4279b5;font-weight:500">VS55</text></g>
<g id="VS56"><circle cx="315" cy="518.3" r="12"/><text x="315" y="521.1">VS56</text></g>
<g id="VS57"><circle cx="315" cy="495.7" r="12"/><text x="315" y="498.5">VS57</text></g>
<g id="VS58"><circle cx="315" cy="459.3" r="12"/><text x="315" y="462.1">VS58</text></g>
<g id="VS59"><circle cx="344.3" cy="561" r="12"/><text x="344.3" y="563.8">VS59</text></g>
<g id="VS60"><circle cx="344.3" cy="520" r="12"/><text x="344.3" y="522.8">VS60</text></g>
<g id="VS61"><circle cx="344.3" cy="444" r="12"/><text x="344.3" y="446.8">VS61</text></g>
<g id="VS62" opacity=".85"><circle cx="344.3" cy="417.3" r="12" style="fill:#4f7aa8"/><text x="344.3" y="420.1">VS62</text></g>
<g id="VS63"><circle cx="344.3" cy="370.7" r="12"/><text x="344.3" y="373.5">VS63</text></g>
<g id="VS64"><circle cx="374.3" cy="444" r="12" style="fill:#4f7aa8"/><text x="374.3" y="446.8">VS64</text></g>
<g id="VS65"><circle cx="395.7" cy="444" r="12" style="fill:#4f7aa8"/><text x="395.7" y="446.8">VS65</text></g>
<g id="VS66"><circle cx="374.3" cy="406" r="12"/><text x="374.3" y="408.8">VS66</text></g>
<g id="VS67"><circle cx="395.7" cy="406" r="12"/><text x="395.7" y="408.8">VS67</text></g>
<g id="VS68"><circle cx="423.3" cy="406" r="12"/><text x="423.3" y="408.8">VS68</text></g>
<g id="VS69"><circle cx="470.7" cy="476.7" r="12"/><text x="470.7" y="479.5">VS69</text></g>
<g id="VS70"><circle cx="675" cy="447.3" r="12"/><text x="675" y="450.1">VS70</text></g>
<g id="VS71"><circle cx="1073.3" cy="447.3" r="12"/><text x="1073.3" y="450.1">VS71</text></g>
<g id="VS72"><circle cx="1104.3" cy="562.3" r="12"/><text x="1104.3" y="565.1">VS72</text></g>
<g id="VS73"><circle cx="1130.7" cy="363.3" r="12"/><text x="1130.7" y="366.1">VS73</text></g>
<g id="VS74"><circle cx="1170.7" cy="426" r="12"/><text x="1170.7" y="428.8">VS74</text></g>
<g id="VS75"><circle cx="1205" cy="521" r="12"/><text x="1205" y="523.8">VS75</text></g>
<g id="VS76"><circle cx="1236.7" cy="561.7" r="12"/><text x="1236.7" y="564.5">VS76</text></g>
<g id="VS77"><circle cx="1269.3" cy="385" r="12"/><text x="1269.3" y="387.8">VS77</text></g>
<g id="VS78"><circle cx="1296" cy="426" r="12"/><text x="1296" y="428.8">VS78</text></g>
<g id="VS79"><circle cx="1331.7" cy="419" r="12"/><text x="1331.7" y="421.8">VS79</text></g>
<g id="VS80"><circle cx="1363.3" cy="503.3" r="12"/><text x="1363.3" y="506.1">VS80</text></g>
<g id="VS81"><circle cx="1435" cy="464.3" r="12"/><text x="1435" y="467.1">VS81</text></g>
<g id="VS82"><circle cx="1436" cy="386.7" r="12"/><text x="1436" y="389.5">VS82</text></g>
<g id="VS83"><circle cx="1488.3" cy="485" r="12"/><text x="1488.3" y="487.8">VS83</text></g>
<g id="VS84"><circle cx="1509" cy="485" r="12"/><text x="1509" y="487.8">VS84</text></g>
<g id="VS86"><circle cx="1524.3" cy="382.7" r="12"/><text x="1524.3" y="385.5">VS86</text></g>
<g id="VS85"><circle cx="1525" cy="405" r="12"/><text x="1525" y="407.8">VS85</text></g>
<g id="VS87"><circle cx="1565.3" cy="524" r="12"/><text x="1565.3" y="526.8">VS87</text></g>
<g id="VS88"><circle cx="1595" cy="503.3" r="12"/><text x="1595" y="506.1">VS88</text></g>
<g id="VS89"><circle cx="1595" cy="426" r="12"/><text x="1595" y="428.8">VS89</text></g>
<g id="VS90"><circle cx="1642.7" cy="485" r="12"/><text x="1642.7" y="487.8">VS90</text></g>
</g>

<line class="rule" x1="90" y1="654" x2="1642" y2="654"/>
<line class="rule" x1="90" y1="917.8" x2="1642" y2="917.8"/>

<g id="title">
<text x="90" y="680" style="font-family:'Liberation Serif',serif;font-weight:700;font-size:24.5px;fill:#111;letter-spacing:.2px">1814</text>
<text x="90" y="699.5" style="font-family:'Liberation Serif',serif;font-weight:700;font-size:24.5px;fill:#111;letter-spacing:.2px">1850</text>
<line x1="152" y1="664" x2="139.6" y2="700" stroke="#4a7fb5" stroke-width="2.6"/>
<text x="153" y="681.5" style="font-family:'Liberation Serif',serif;font-size:24px;fill:#4a7fb5;font-variant:small-caps;letter-spacing:.8px">Espacio</text>
<text x="154" y="697" style="font-family:'Liberation Serif',serif;font-size:24px;fill:#4a7fb5;font-variant:small-caps;letter-spacing:.9px">Político</text>
</g>

<g id="list" transform="translate(0,1)">
<text class="l1" x="283" y="672.3">VS41</text><text class="l2" x="323" y="672.3">1814</text><text class="l3" x="357.5" y="672.3">Fiestas por la entrada de Fernando VII</text>
<text class="l1" x="283" y="684.9">VS42</text><text class="l2" x="323" y="684.9">1814</text><text class="l3" x="357.5" y="684.9">Fiesta por la abdicación de Napoleón</text>
<text class="l1" x="283" y="697.5">VS43</text><text class="l2" x="323" y="697.5">1814</text><text class="l3" x="357.5" y="697.5">Contrarrevolución</text>
<text class="l1" x="283" y="710.1">VS44</text><text class="l2" x="323" y="710.1">1814</text><text class="l3" x="357.5" y="710.1">Restitución del Santo Oficio</text>
<text class="l1" x="283" y="722.6">VS45</text><text class="l2" x="323" y="722.6">1814</text><text class="l3" x="357.5" y="722.6">Fiestas por la disolución de las cortes</text>
<text class="l1" x="283" y="735.2">VS46</text><text class="l2" x="323" y="735.2">1814</text><text class="l3" x="357.5" y="735.2">Procesiones cívicas por Fernando VII</text>
<text class="l1" x="283" y="747.8">VS47</text><text class="l2" x="323" y="747.8">1814</text><text class="l3" x="357.5" y="747.8">Cese del Ayuntamiento</text>
<text class="l1" x="283" y="760.4">VS48</text><text class="l2" x="323" y="760.4">1814</text><text class="l3" x="357.5" y="760.4">Bando de la Santa Inquisición</text>
<text class="l1" x="283" y="773">VS49</text><text class="l2" x="323" y="773">1816</text><text class="l3" x="357.5" y="773">Inauguración de San Ildefonso</text>
<text class="l1" x="283" y="785.5">VS50</text><text class="l2" x="323" y="785.5">1816</text><text class="l3" x="357.5" y="785.5">Visita de las Princesas del Brasil</text>
<text class="l1" x="283" y="798.1">VS51</text><text class="l2" x="323" y="798.1">1817</text><text class="l3" x="357.5" y="798.1">Restitución de la Cruz de Cerrajería</text>
<text class="l1" x="283" y="810.7">VS52</text><text class="l2" x="323" y="810.7">1817</text><text class="l3" x="357.5" y="810.7">Primer barco de vapor</text>
<text class="l1" x="283" y="823.3">VS53</text><text class="l2" x="323" y="823.3">1818</text><text class="l3" x="357.5" y="823.3">Asonada de jornaleros</text>
<text class="l1" x="283" y="835.8">VS54</text><text class="l2" x="323" y="835.8">1818</text><text class="l3" x="357.5" y="835.8">Primera piedra de la plaza de la Magdalena</text>
<text class="l1" x="283" y="848.4">VS55</text><text class="l2" x="323" y="848.4" style="font-size:8.2px">1818/19</text><text class="l3" x="357.5" y="848.4">Exequias por María Isabel de Braganza y Carlos IV</text>
<text class="l1" x="283" y="861">VS56</text><text class="l2" x="323" y="861">1820</text><text class="l3" x="357.5" y="861">Entrada de Rafael del Riego</text>
<text class="l1" x="283" y="873.6">VS57</text><text class="l2" x="323" y="873.6">1820</text><text class="l3" x="357.5" y="873.6">Jura de la Constitución de 1812</text>
<text class="l1" x="283" y="886.2">VS58</text><text class="l2" x="323" y="886.2">1820</text><text class="l3" x="357.5" y="886.2">Sociedad Patriótica</text>
<text class="l1" x="283" y="898.8">VS59</text><text class="l2" x="323" y="898.8">1821</text><text class="l3" x="357.5" y="898.8">Beatificación de Juan Bautista de la Concepción</text>
<text class="l1" x="996.8" y="672.3">VS60</text><text class="l2" x="1037.7" y="672.3">1821</text><text class="l3" x="1076" y="672.3">Burlas contra la Inquisición</text>
<text class="l1" x="996.8" y="684.9">VS61</text><text class="l2" x="1037.7" y="684.9">1821</text><text class="l3" x="1076" y="684.9">Cadalso en el Prado de San Sebastián</text>
<text class="l1" x="996.8" y="697.5">VS62</text><text class="l2" x="1037.7" y="697.5">1821</text><text class="l3" x="1076" y="697.5">Procesiones cívicas por el general Riego</text>
<text class="l1" x="996.8" y="710.1">VS63</text><text class="l2" x="1037.7" y="710.1">1821</text><text class="l3" x="1076" y="710.1">Exequias por Don Felipe Arco-Agüero</text>
<text class="l1" x="996.8" y="722.6">VS64</text><text class="l2" x="1037.7" y="722.6">1822</text><text class="l3" x="1076" y="722.6">Exequias por Fray Miguel Fernández</text>
<text class="l1" x="996.8" y="735.2">VS65</text><text class="l2" x="1037.7" y="735.2">1822</text><text class="l3" x="1076" y="735.2">Honras solemnes por los caídos el 7 de julio</text>
<text class="l1" x="996.8" y="747.8">VS66</text><text class="l2" x="1037.7" y="747.8">1822</text><text class="l3" x="1076" y="747.8">Visita del General Riego</text>
<text class="l1" x="996.8" y="760.4">VS67</text><text class="l2" x="1037.7" y="760.4">1822</text><text class="l3" x="1076" y="760.4">Procesión cívica por el Marqués de Tabares</text>
<text class="l1" x="996.8" y="773">VS68</text><text class="l2" x="1037.7" y="773">1823</text><text class="l3" x="1076" y="773">Entrada Triunfal de la familia Real</text>
<text class="l1" x="996.8" y="785.5">VS69</text><text class="l2" x="1037.7" y="785.5">1825</text><text class="l3" x="1076" y="785.5">Velada del Corpus en la Alameda</text>
<text class="l1" x="996.8" y="798.1">VS70</text><text class="l2" x="1037.7" y="798.1">1831</text><text class="l3" x="1076" y="798.1">Fiestas por San Bernardo Doctor de la Iglesia</text>
<text class="l1" x="996.8" y="810.7">VS71</text><text class="l2" x="1037.7" y="810.7">1832</text><text class="l3" x="1076" y="810.7">Entrada del Infante Francisco de Paula Antonio</text>
<text class="l1" x="996.8" y="823.3">VS72</text><text class="l2" x="1037.7" y="823.3">1833</text><text class="l3" x="1076" y="823.3">Circo Olímpico en la Gavidia</text>
<text class="l1" x="996.8" y="835.8">VS73</text><text class="l2" x="1037.7" y="835.8">1834</text><text class="l3" x="1076" y="835.8">Bando Real de Isabel II</text>
<text class="l1" x="996.8" y="848.4">VS74</text><text class="l2" x="1037.7" y="848.4">1835</text><text class="l3" x="1076" y="848.4">Quema de banderas</text>
<text class="l1" x="996.8" y="861">VS75</text><text class="l2" x="1037.7" y="861">1836</text><text class="l3" x="1076" y="861">Pronunciamiento por la Constitución de 1812</text>
<text class="l1" x="996.8" y="873.6">VS76</text><text class="l2" x="1037.7" y="873.6">1837</text><text class="l3" x="1076" y="873.6">Duelo por el Sitio de Bilbao</text>
<text class="l1" x="996.8" y="886.2">VS77</text><text class="l2" x="1037.7" y="886.2">1838</text><text class="l3" x="1076" y="886.2">Entrada del general Narváez</text>
<text class="l1" x="996.8" y="898.8">VS78</text><text class="l2" x="1037.7" y="898.8">1839</text><text class="l3" x="1076" y="898.8">Fiestas por la Paz de Vergara</text>
<text class="l1" x="1315" y="672.3">VS79</text><text class="l2" x="1355.4" y="672.3">1840</text><text class="l3" x="1393.7" y="672.3">Procesión con el retrato de Espartero</text>
<text class="l1" x="1315" y="684.9">VS80</text><text class="l2" x="1355.4" y="684.9">1841</text><text class="l3" x="1393.7" y="684.9">Festejos por la regencia de Espartero</text>
<text class="l1" x="1315" y="697.5">VS81</text><text class="l2" x="1355.4" y="697.5">1843</text><text class="l3" x="1393.7" y="697.5">Procesión con el Pendón</text>
<text class="l1" x="1315" y="710.1">VS82</text><text class="l2" x="1355.4" y="710.1">1843</text><text class="l3" x="1393.7" y="710.1">Festejos por la mayoría de edad de Isabel II</text>
<text class="l1" x="1315" y="722.6">VS83</text><text class="l2" x="1355.4" y="722.6">1845</text><text class="l3" x="1393.7" y="722.6">Inauguración del paseo de la Magdalena</text>
<text class="l1" x="1315" y="735.2">VS84</text><text class="l2" x="1355.4" y="735.2">1845</text><text class="l3" x="1393.7" y="735.2">Construcción del Puente de Isabel II</text>
<text class="l1" x="1315" y="747.8">VS85</text><text class="l2" x="1355.4" y="747.8">1846</text><text class="l3" x="1393.7" y="747.8">Festejos por las bodas reales</text>
<text class="l1" x="1315" y="760.4">VS86</text><text class="l2" x="1355.4" y="760.4">1846</text><text class="l3" x="1393.7" y="760.4">Inauguración del paseo del Museo</text>
<text class="l1" x="1315" y="773">VS87</text><text class="l2" x="1355.4" y="773">1847</text><text class="l3" x="1393.7" y="773">Feria de Abril</text>
<text class="l1" x="1315" y="785.5">VS88</text><text class="l2" x="1355.4" y="785.5">1848</text><text class="l3" x="1393.7" y="785.5">Llegada de los duques de Montpensier</text>
<text class="l1" x="1315" y="798.1">VS89</text><text class="l2" x="1355.4" y="798.1">1848</text><text class="l3" x="1393.7" y="798.1">Festejos por el nacimiento de Mª Luisa de Orleans</text>
<text class="l1" x="1315" y="810.7">VS90</text><text class="l2" x="1355.4" y="810.7">1849</text><text class="l3" x="1393.7" y="810.7">Honras por la Princesa Adelaida de Orleans</text>
</g>

<g id="legend" transform="translate(0,1)">
<rect class="h" x="92.8" y="930" width="1.4" height="8.5"/><text class="lg" x="98" y="937.3" style="fill:#f7d3a4">Historia</text>
<rect class="p" x="133.8" y="930" width="1.4" height="8.5"/><text class="lg" x="138.5" y="937.3" style="fill:#b88fb0">Personajes</text>
<rect class="a" x="191" y="930" width="1.4" height="8.5"/><text class="lg" x="196" y="937.3" style="fill:#80b3a0">Arte</text>
<rect class="u" x="219.4" y="930" width="1.4" height="8.5"/><text class="lg" x="224" y="937.3" style="fill:#a8474c;letter-spacing:.3px">Arquitectura y urbanismo</text>
<rect class="v" x="341.4" y="930" width="1.4" height="8.5"/><text class="lg" x="346.5" y="937.3" style="fill:#6f8fc0">Invenciones</text>
<circle cx="410" cy="934" r="5.4" fill="#b8505e"/><text class="lg" x="418.4" y="937.3">Acontecimiento local</text>
<text class="lg" x="525.5" y="937.3" style="fill:#111;font-weight:700">Poderes</text>
<rect x="567.5" y="930" width="20" height="7.4" fill="#b5b5b0"/><text class="lg" x="592.5" y="937.3">Real</text>
<rect x="618" y="930" width="20" height="7.4" fill="#fbb017"/><text class="lg" x="643" y="937.3">Eclesiástico</text>
<rect x="699.6" y="930" width="20" height="7.4" fill="#8f9cc0"/><text class="lg" x="724" y="937.3">Civil</text>
<text class="sym" x="1269" y="938" style="font-size:11px">†</text><text class="lg" x="1274.3" y="937.3">Religioso</text>
<text class="sym" x="1323" y="938" style="font-size:11px">‡</text><text class="lg" x="1329.3" y="937.3">Punitivo</text>
<text class="sym" x="1377" y="937.3">X</text><text class="lg" x="1383.3" y="937.3">Militar</text>
<text class="sym" x="1421" y="937.3">P</text><text class="lg" x="1427" y="937.3">Político</text>
<text class="sym" x="1470" y="937.3">ℓ</text><text class="lg" x="1475" y="937.3">Lúdico</text>
<text class="sym" x="1516.7" y="937.3">Ø</text><text class="lg" x="1523.7" y="937.3">Reivindicativo</text>
<text class="sym" x="1596" y="937.3">£</text><text class="lg" x="1601.7" y="937.3">Mercantil</text>
</g>
</svg>
